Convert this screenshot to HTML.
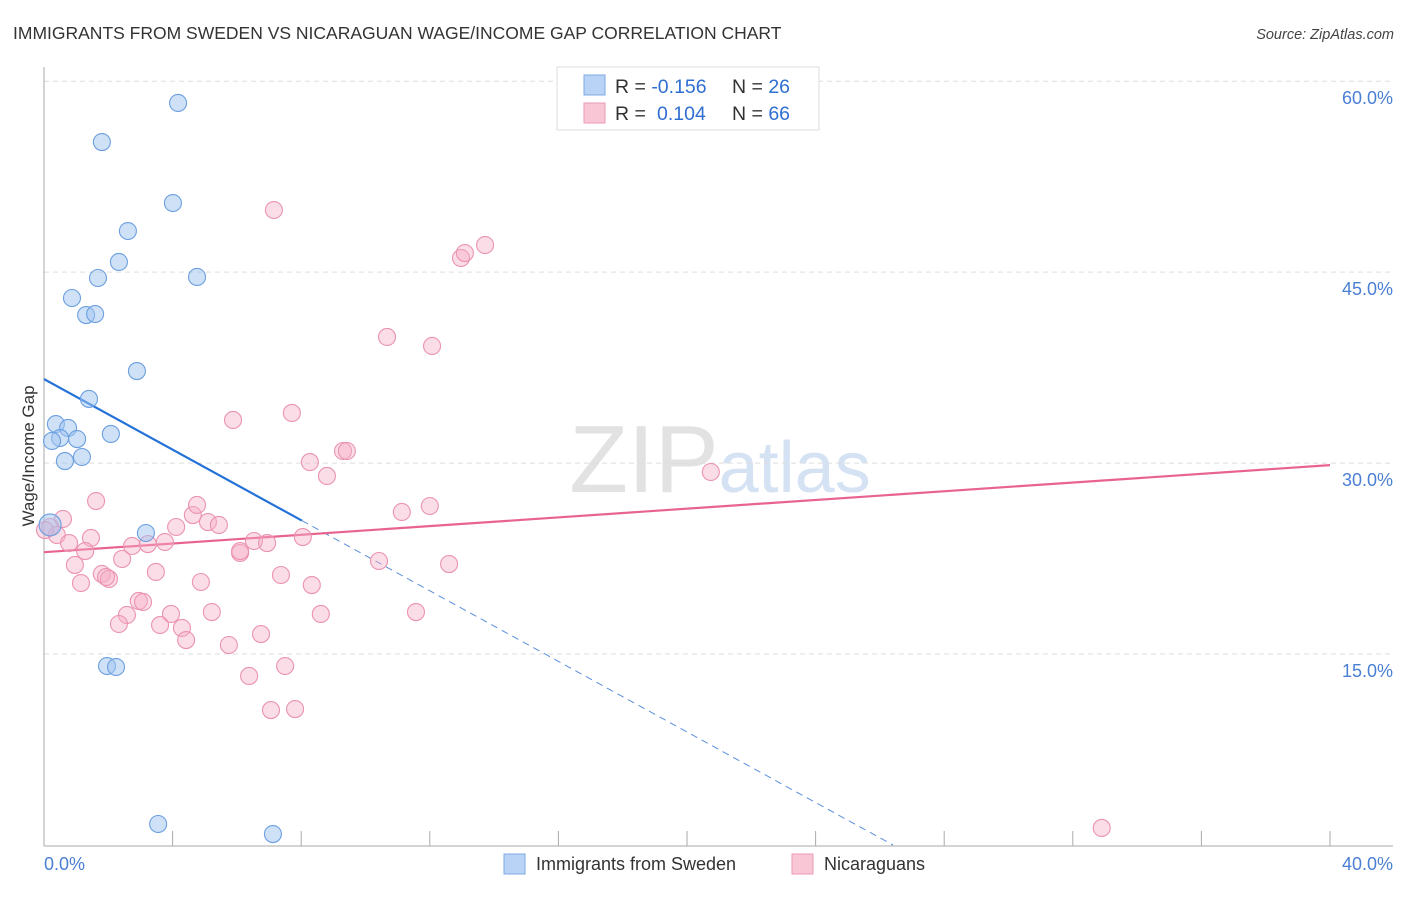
<!DOCTYPE html>
<html><head><meta charset="utf-8"><style>
body{margin:0;background:#fff;font-family:"Liberation Sans",sans-serif;}
svg text{font-family:"Liberation Sans",sans-serif;}
</style></head><body>
<svg id="chart" width="1406" height="892" xmlns="http://www.w3.org/2000/svg">
<text x="13" y="39" font-size="17.5" fill="#333">IMMIGRANTS FROM SWEDEN VS NICARAGUAN WAGE/INCOME GAP CORRELATION CHART</text>
<text x="1394" y="39" font-size="14.5" fill="#444" text-anchor="end" font-style="italic">Source: ZipAtlas.com</text>
<text x="720" y="492" font-size="96" text-anchor="middle" fill="#e2e2e2" font-family="Liberation Serif">ZIP<tspan fill="#d4e2f4" font-family="Liberation Sans" font-size="72">atlas</tspan></text>
<g id="grid"></g>
<g id="axes"></g>
<g id="lines"></g>
<g id="pts"></g>
<text transform="translate(34,456) rotate(-90)" font-size="17" fill="#333" text-anchor="middle">Wage/Income Gap</text>
<g>
<rect x="557" y="67" width="262" height="63" fill="#fff" stroke="#ddd"/>
<rect x="584" y="75" width="21" height="20" fill="#b8d3f5" stroke="#7fa9e3"/>
<rect x="584" y="103" width="21" height="20" fill="#f8c6d5" stroke="#ec9ab4"/>
<text x="615" y="93" font-size="19.5" fill="#333">R = <tspan fill="#2f6fd1">-0.156</tspan><tspan x="732">N = </tspan><tspan fill="#2f6fd1">26</tspan></text>
<text x="615" y="120" font-size="19.5" fill="#333">R = <tspan x="657" fill="#2f6fd1">0.104</tspan><tspan x="732">N = </tspan><tspan fill="#2f6fd1">66</tspan></text>
</g>
<g>
<rect x="504" y="854" width="21" height="20" fill="#b8d3f5" stroke="#7fa9e3"/>
<text x="536" y="870" font-size="18" fill="#333">Immigrants from Sweden</text>
<rect x="792" y="854" width="21" height="20" fill="#f8c6d5" stroke="#ec9ab4"/>
<text x="824" y="870" font-size="18" fill="#333">Nicaraguans</text>
</g>
</svg>
<script>
const xTicks=[0,4,8,12,16,20,24,28,32,36,40];
const yTicks=[15,30,45,60];
const blueX=[4.17,1.80,4.01,2.61,2.33,1.68,4.76,0.87,1.31,1.59,2.89,1.40,0.37,0.75,2.08,0.50,1.03,0.25,0.65,1.18,3.17,1.96,2.24,3.55,7.12,0.19];
const blueY=[58.29,55.22,50.43,48.23,45.80,44.54,44.62,42.97,41.63,41.71,37.23,35.04,33.07,32.76,32.29,31.97,31.89,31.74,30.16,30.48,24.51,14.06,13.98,1.65,0.86,25.14];
const pinkX=[5.88,7.71,9.30,9.42,8.27,8.80,1.62,11.13,12.00,0.59,0.19,0.40,0.78,1.46,1.28,0.96,1.15,2.43,2.74,3.23,3.76,4.11,4.63,4.76,5.10,5.44,6.10,6.10,6.53,6.94,8.05,10.42,12.60,1.80,2.02,1.93,3.48,4.88,7.37,8.33,2.95,3.08,2.58,2.33,3.95,3.61,4.29,4.42,5.22,8.61,11.57,6.75,5.75,7.50,6.38,7.06,7.81,7.15,12.97,13.09,13.72,10.67,12.07,20.74,32.90,0.03];
const pinkY=[33.39,33.94,30.95,30.95,30.08,28.99,27.02,26.16,26.63,25.61,24.98,24.35,23.72,24.12,23.09,22.00,20.58,22.47,23.49,23.64,23.80,24.98,25.92,26.71,25.37,25.14,22.94,23.09,23.88,23.72,24.19,22.31,22.07,21.29,20.90,21.05,21.45,20.66,21.21,20.42,19.17,19.09,18.07,17.36,18.15,17.28,17.05,16.10,18.30,18.15,18.30,16.57,15.71,14.06,13.28,10.60,10.68,49.88,46.11,46.50,47.13,39.91,39.20,29.30,1.34,24.74];
const blueFit=[36.6,-1.386];
const pinkFit=[23.0,0.171];
const NS="http://www.w3.org/2000/svg";
const X=v=>44+v*(1286/40);
const Y=v=>845-v*12.73;
function mk(tag,attrs,parent){const e=document.createElementNS(NS,tag);for(const k in attrs)e.setAttribute(k,attrs[k]);document.getElementById(parent).appendChild(e);return e;}
yTicks.forEach(t=>{
 const g=mk('line',{x1:44,x2:1393,y1:Y(t),y2:Y(t),stroke:'#ddd','stroke-dasharray':'5,4'},'grid');
 
 
 const tx=mk('text',{x:1393,y:Y(t)+23,'font-size':18,fill:'#4a7fd4','text-anchor':'end'},'grid');
 tx.textContent=t.toFixed(1)+'%';
 
 
});
mk('line',{x1:44,x2:44,y1:67,y2:846,stroke:'#aaa'},'axes');
mk('line',{x1:44,x2:1393,y1:846,y2:846,stroke:'#aaa'},'axes');
xTicks.forEach(t=>{
 const l=mk('line',{x1:X(t),x2:X(t),y1:831,y2:846,stroke:'#aaa'},'axes');
 
 
});
const xl0=mk('text',{x:44,y:870,'font-size':18,fill:'#4a7fd4'},'axes');xl0.textContent=xTicks[0].toFixed(1)+'%';


const xl1=mk('text',{x:1393,y:870,'font-size':18,fill:'#4a7fd4','text-anchor':'end'},'axes');xl1.textContent=xTicks[xTicks.length-1].toFixed(1)+'%';


pinkX.forEach((v,i)=>{
 const c=mk('circle',{cx:X(v),cy:Y(pinkY[i]),r:8.5,fill:'rgba(246,175,198,0.42)',stroke:'#eb93b0','stroke-width':1.1},'pts');
 
 
});
blueX.forEach((v,i)=>{
 const c=mk('circle',{cx:X(v),cy:Y(blueY[i]),r:i===25?11:8.5,fill:'rgba(160,196,240,0.5)',stroke:'#6b9fe0','stroke-width':1.1},'pts');
 
 
});
const bEnd=8.02, bZero=-blueFit[0]/blueFit[1];
const bl=mk('line',{x1:X(0),y1:Y(blueFit[0]),x2:X(bEnd),y2:Y(blueFit[0]+blueFit[1]*bEnd),stroke:'#2471d8','stroke-width':2.2},'lines');


const bd=mk('line',{x1:X(bEnd),y1:Y(blueFit[0]+blueFit[1]*bEnd),x2:X(bZero),y2:Y(0),stroke:'#5b8fdc','stroke-width':1,'stroke-dasharray':'7,5'},'lines');


const pl=mk('line',{x1:X(0),y1:Y(pinkFit[0]),x2:X(40),y2:Y(pinkFit[0]+pinkFit[1]*40),stroke:'#e8648f','stroke-width':2.2},'lines');


</script>
</body></html>
